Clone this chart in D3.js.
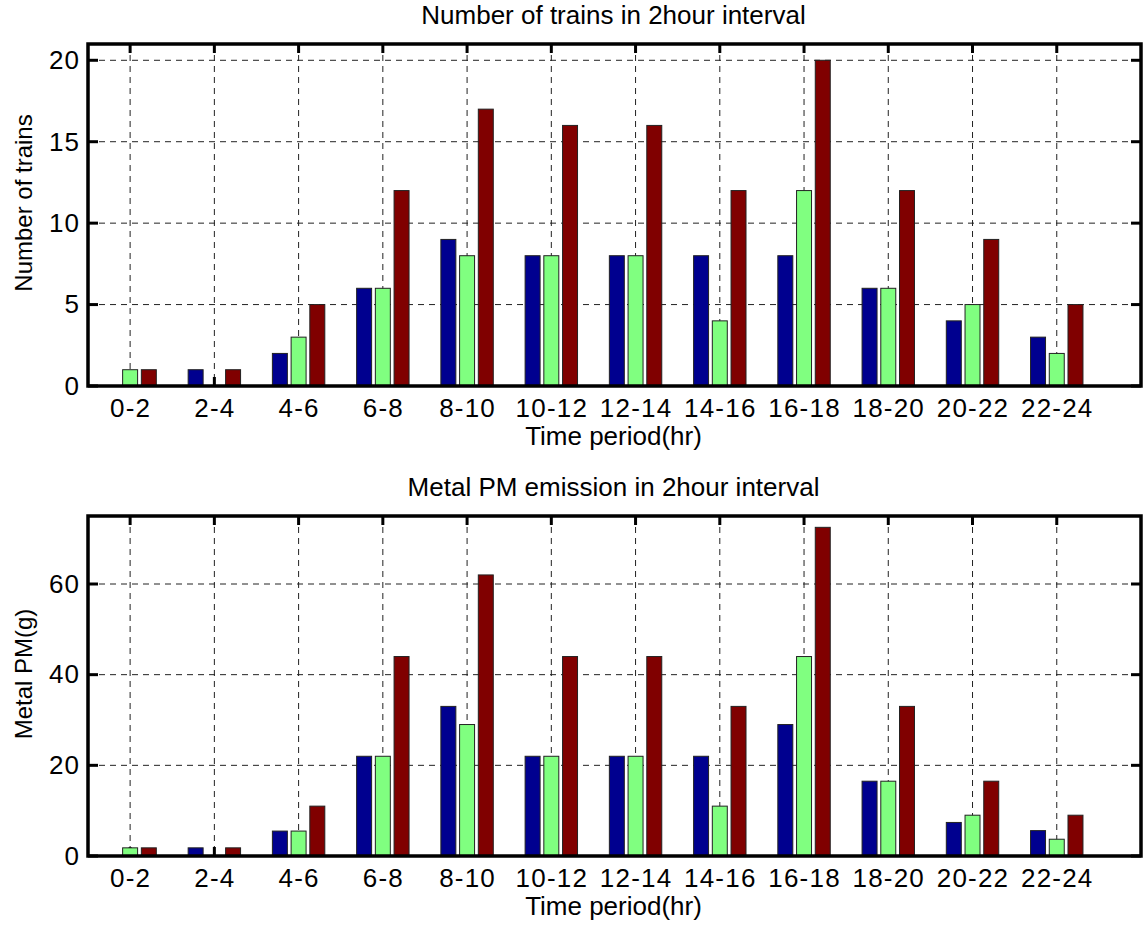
<!DOCTYPE html>
<html>
<head>
<meta charset="utf-8">
<script src="https://cdn.jsdelivr.net/npm/d3@7"></script>
<style>
  body { margin: 0; background: #fff; }
  text { font-family: "Liberation Sans", Arial, Helvetica, sans-serif; fill: #000; }
  .grid line { stroke: #222; stroke-width: 1; stroke-dasharray: 6,5; }
</style>
</head>
<body>
<div id="chart"></div>
<script>
"use strict";

var width = 1145;
var height = 931;

var periods = ["0-2", "2-4", "4-6", "6-8", "8-10", "10-12", "12-14", "14-16", "16-18", "18-20", "20-22", "22-24"];
var seriesColors = ["#00008f", "#80ff80", "#800000"];

// top panel: number of trains
var trainsA = [0, 1, 2, 6, 9, 8, 8, 8, 8, 6, 4, 3];
var trainsB = [1, 0, 3, 6, 8, 8, 8, 4, 12, 6, 5, 2];
var trainsC = [1, 1, 5, 12, 17, 16, 16, 12, 20, 12, 9, 5];
var trainTicks = [0, 5, 10, 15, 20];

// bottom panel: metal PM (g)
var pmA = [0, 1.8, 5.5, 22, 33, 22, 22, 22, 29, 16.5, 7.4, 5.6];
var pmB = [1.8, 0, 5.5, 22, 29, 22, 22, 11, 44, 16.5, 9, 3.7];
var pmC = [1.8, 1.8, 11, 44, 62, 44, 44, 33, 72.5, 33, 16.5, 9];
var pmTicks = [0, 20, 40, 60];

var svg = d3.select("#chart")
            .append("svg")
            .attr("width", width)
            .attr("height", height);

var left = 88, right = 1141;

function drawPanel(cfg) {
   var g = svg.append("g");

   var xScale = d3.scaleLinear()
                  .domain([0.5, 13])
                  .range([left, right]);

   var yScale = d3.scaleLinear()
                  .domain([0, cfg.ymax])
                  .range([cfg.bottom, cfg.top]);

   var series = cfg.series;
   var groupWidth = 2 / 3;
   var barW = groupWidth / 3 * 0.8;

   // grid
   var grid = g.append("g").attr("class", "grid");
   grid.selectAll("line.gx")
       .data(d3.range(1, periods.length + 1))
       .enter()
       .append("line")
       .attr("x1", function(d) { return xScale(d); })
       .attr("x2", function(d) { return xScale(d); })
       .attr("y1", cfg.top)
       .attr("y2", cfg.bottom);
   grid.selectAll("line.gy")
       .data(cfg.ticks.slice(1))
       .enter()
       .append("line")
       .attr("x1", left)
       .attr("x2", right)
       .attr("y1", function(d) { return yScale(d); })
       .attr("y2", function(d) { return yScale(d); });

   // inner tick marks (behind the bars)
   var tk = g.append("g").attr("stroke", "#000").attr("stroke-width", 3);
   d3.range(1, periods.length + 1).forEach(function(d) {
      tk.append("line").attr("x1", xScale(d)).attr("x2", xScale(d))
        .attr("y1", cfg.top).attr("y2", cfg.top + 9);
      tk.append("line").attr("x1", xScale(d)).attr("x2", xScale(d))
        .attr("y1", cfg.bottom).attr("y2", cfg.bottom - 9);
   });
   cfg.ticks.forEach(function(d) {
      tk.append("line").attr("x1", left).attr("x2", left + 10)
        .attr("y1", yScale(d)).attr("y2", yScale(d));
      tk.append("line").attr("x1", right).attr("x2", right - 10)
        .attr("y1", yScale(d)).attr("y2", yScale(d));
   });

   // bars
   series.forEach(function(vals, s) {
      var off = -groupWidth / 2 + (2 * s + 1) * groupWidth / 6;
      g.append("g")
       .selectAll("rect")
       .data(vals)
       .enter()
       .append("rect")
       .attr("x", function(d, i) { return xScale(i + 1 + off - barW / 2); })
       .attr("y", function(d) { return yScale(d); })
       .attr("width", xScale(barW) - xScale(0))
       .attr("height", function(d) { return cfg.bottom - yScale(d); })
       .attr("fill", seriesColors[s])
       .attr("stroke", "#222")
       .attr("stroke-width", 1);
   });

   // axes
   var xAxis = d3.axisBottom(xScale)
                 .tickValues(d3.range(1, periods.length + 1))
                 .tickFormat(function(d) { return periods[d - 1]; })
                 .tickSize(0)
                 .tickPadding(0);
   var xg = g.append("g")
             .attr("transform", "translate(0," + cfg.bottom + ")")
             .call(xAxis);
   xg.select(".domain").remove();
   xg.selectAll("text")
     .style("font-size", "26px")
     .style("letter-spacing", "1.2px")
     .attr("y", 31)
     .attr("dy", null);

   var yAxis = d3.axisLeft(yScale)
                 .tickValues(cfg.ticks)
                 .tickSize(0)
                 .tickPadding(8);
   var yg = g.append("g")
             .attr("transform", "translate(" + left + ",0)")
             .call(yAxis);
   yg.select(".domain").remove();
   yg.selectAll("text").style("font-size", "26px").style("letter-spacing", "1px");

   // box
   g.append("rect")
    .attr("x", left)
    .attr("y", cfg.top)
    .attr("width", right - left)
    .attr("height", cfg.bottom - cfg.top)
    .attr("fill", "none")
    .attr("stroke", "#000")
    .attr("stroke-width", 3.5);

   // title
   g.append("text")
    .attr("x", (left + right) / 2 - 1)
    .attr("y", cfg.top - 20)
    .attr("text-anchor", "middle")
    .style("font-size", "26px")
    .text(cfg.title);

   // x label
   g.append("text")
    .attr("x", (left + right) / 2 - 1)
    .attr("y", cfg.bottom + 59)
    .attr("text-anchor", "middle")
    .style("font-size", "26px")
    .text("Time period(hr)");

   // y label
   g.append("text")
    .attr("transform", "translate(32," + ((cfg.top + cfg.bottom) / 2 - 12) + ") rotate(-90)")
    .attr("text-anchor", "middle")
    .style("font-size", "24px")
    .text(cfg.ylabel);
}

drawPanel({
   top: 44, bottom: 386, ymax: 21,
   ticks: trainTicks,
   series: [trainsA, trainsB, trainsC],
   title: "Number of trains in 2hour interval",
   ylabel: "Number of trains"
});

drawPanel({
   top: 516, bottom: 856, ymax: 75,
   ticks: pmTicks,
   series: [pmA, pmB, pmC],
   title: "Metal PM emission in 2hour interval",
   ylabel: "Metal PM(g)"
});
</script>
</body>
</html>
